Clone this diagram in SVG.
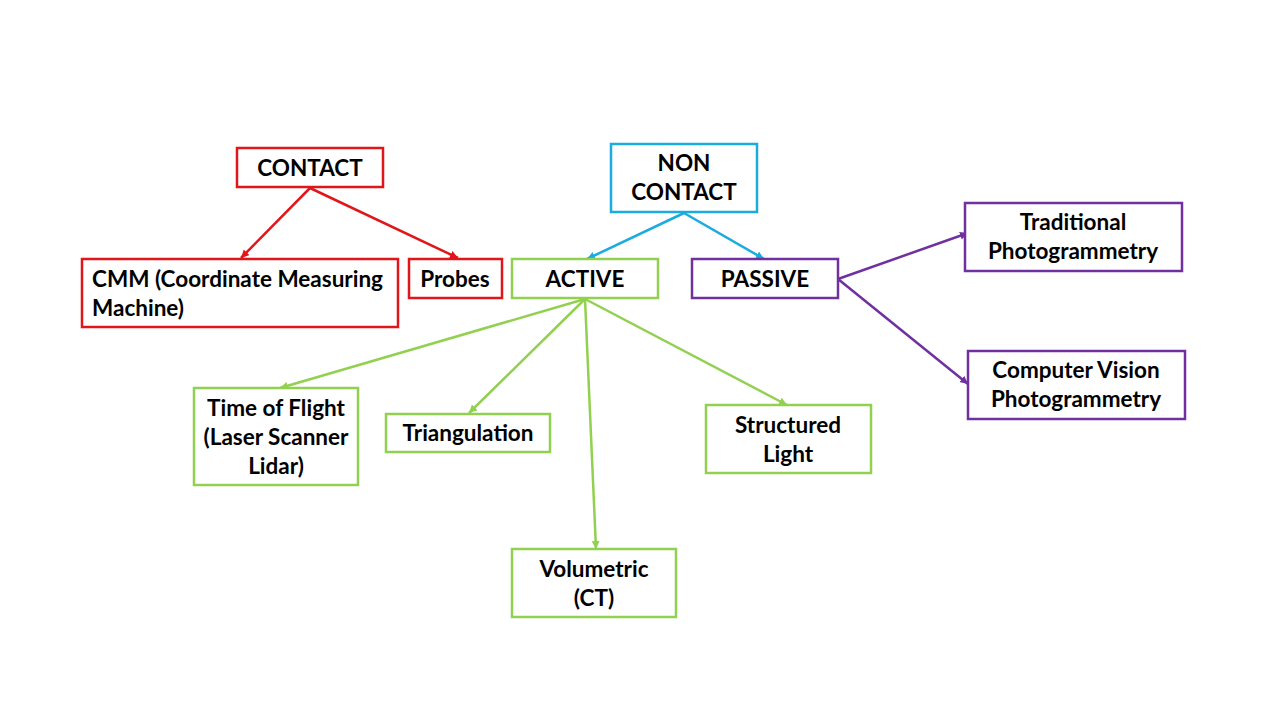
<svg xmlns="http://www.w3.org/2000/svg" width="1280" height="720" viewBox="0 0 1280 720">
<defs>
<style>
.box{fill:#fff;stroke-width:2.5}
.r{stroke:#E0161B}.b{stroke:#1AABDF}.g{stroke:#92D050}.p{stroke:#7030A0}
text{font-family:Lato,"Liberation Sans",sans-serif;font-weight:bold;font-size:22.5px;fill:#000;text-anchor:middle}
.ln{fill:none;stroke-width:2.5}
</style>
<marker id="mr" markerUnits="userSpaceOnUse" markerWidth="10" markerHeight="10" refX="8" refY="4" orient="auto"><path d="M0,0L8,4L0,8z" fill="#E0161B"/></marker>
<marker id="mb" markerUnits="userSpaceOnUse" markerWidth="10" markerHeight="10" refX="8" refY="4" orient="auto"><path d="M0,0L8,4L0,8z" fill="#1AABDF"/></marker>
<marker id="mg" markerUnits="userSpaceOnUse" markerWidth="10" markerHeight="10" refX="8" refY="4" orient="auto"><path d="M0,0L8,4L0,8z" fill="#92D050"/></marker>
<marker id="mp" markerUnits="userSpaceOnUse" markerWidth="10" markerHeight="10" refX="8" refY="4" orient="auto"><path d="M0,0L8,4L0,8z" fill="#7030A0"/></marker>
</defs>
<rect width="1280" height="720" fill="#fff"/>
<g id="connectors">
<path class="ln r" d="M310,188L241,258" marker-end="url(#mr)"/>
<path class="ln r" d="M310,188L458,258" marker-end="url(#mr)"/>
<path class="ln b" d="M684,213L587,259" marker-end="url(#mb)"/>
<path class="ln b" d="M684,213L764,259" marker-end="url(#mb)"/>
<path class="ln p" d="M838,279L968,233" marker-end="url(#mp)"/>
<path class="ln p" d="M838,279L968,384" marker-end="url(#mp)"/>
<path class="ln g" d="M585,299L280,388" marker-end="url(#mg)"/>
<path class="ln g" d="M585,299L469,413" marker-end="url(#mg)"/>
<path class="ln g" d="M585,299L596,549" marker-end="url(#mg)"/>
<path class="ln g" d="M585,299L787,405" marker-end="url(#mg)"/>
</g>
<g id="contact"><rect class="box r" x="237" y="148" width="146" height="39"/><text x="310" y="176">CONTACT</text></g>
<g id="noncontact"><rect class="box b" x="611" y="144" width="146" height="68"/><text x="684" y="171">NON</text><text x="684" y="200">CONTACT</text></g>
<g id="cmm"><rect class="box r" x="82" y="259" width="316" height="68"/><text x="92" y="287" style="text-anchor:start">CMM (Coordinate Measuring</text><text x="92" y="316" style="text-anchor:start">Machine)</text></g>
<g id="probes"><rect class="box r" x="409" y="259" width="93" height="39"/><text x="455" y="287">Probes</text></g>
<g id="active"><rect class="box g" x="512" y="259" width="146" height="39"/><text x="585" y="287">ACTIVE</text></g>
<g id="passive"><rect class="box p" x="692" y="259" width="146" height="39"/><text x="765" y="287">PASSIVE</text></g>
<g id="traditional"><rect class="box p" x="965" y="203" width="217" height="68"/><text x="1073" y="230">Traditional</text><text x="1073" y="259">Photogrammetry</text></g>
<g id="cv"><rect class="box p" x="968" y="351" width="217" height="68"/><text x="1076" y="378">Computer Vision</text><text x="1076" y="407">Photogrammetry</text></g>
<g id="tof"><rect class="box g" x="194" y="388" width="164" height="97"/><text x="276" y="416">Time of Flight</text><text x="276" y="445">(Laser Scanner</text><text x="276" y="474">Lidar)</text></g>
<g id="triangulation"><rect class="box g" x="386" y="414" width="164" height="38"/><text x="468" y="441">Triangulation</text></g>
<g id="structured"><rect class="box g" x="706" y="405" width="165" height="68"/><text x="788" y="433">Structured</text><text x="788" y="462">Light</text></g>
<g id="volumetric"><rect class="box g" x="512" y="549" width="164" height="68"/><text x="594" y="577">Volumetric</text><text x="594" y="606">(CT)</text></g>
</svg>
